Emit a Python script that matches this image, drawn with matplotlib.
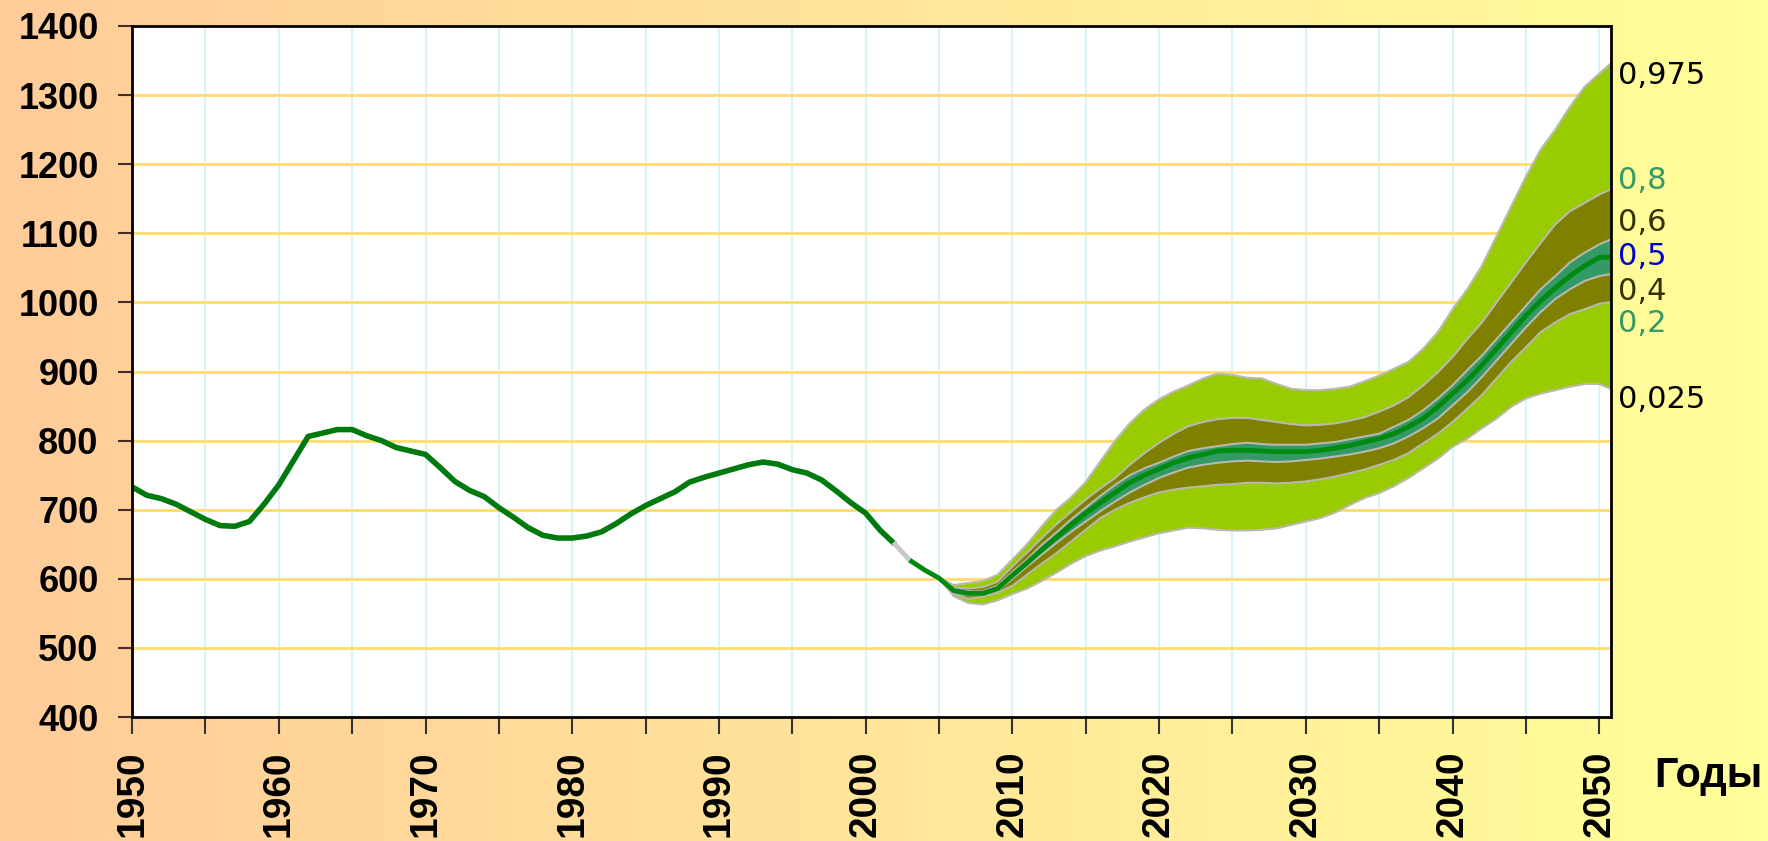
import numpy as np
import matplotlib
matplotlib.use("Agg")
import matplotlib.pyplot as plt
import matplotlib.transforms as mtransforms

plt.rcParams['font.family'] = ['Liberation Sans', 'DejaVu Sans']

# observed series 1950-2002
hist_years = list(range(1950, 2003))
hist_vals = [733, 721, 716, 708, 697, 686, 677, 676, 683, 708,
             736, 771, 806, 811, 816, 816, 807, 800, 790, 785,
             780, 761, 741, 728, 719, 703, 689, 674, 663, 659,
             659, 662, 668, 680, 694, 706, 716, 726, 740, 747,
             753, 759, 765, 769, 766, 758, 753, 743, 727, 710,
             695, 670, 650]

# short gap between data and forecast
gap_years = [2002, 2003]
gap_vals = [650, 627]

# forecast quantiles 2003-2051
fc_years = list(range(2003, 2052))
median = [627, 613, 601, 583, 579, 579, 586, 605, 623, 642,
          660, 678, 695, 710, 725, 739, 750, 759, 768, 775,
          780, 785, 786, 786, 785, 784, 784, 784, 786, 789,
          793, 798, 803, 810, 820, 832, 849, 868, 887, 909,
          933, 957, 981, 1002, 1021, 1038, 1053, 1065, 1066]

band_years = list(range(2005, 2052))
q025 = [601, 575, 565, 563, 569, 578, 586, 597, 609, 622,
        633, 641, 647, 654, 660, 666, 670, 674, 673, 671,
        670, 670, 671, 673, 678, 683, 688, 696, 707, 717,
        724, 734, 746, 760, 774, 791, 803, 818, 832, 849,
        861, 868, 873, 878, 882, 882, 873]
q20 = [601, 578, 571, 574, 580, 590, 606, 622, 637, 654,
       671, 688, 700, 710, 718, 725, 729, 732, 734, 736,
       737, 739, 739, 738, 739, 741, 744, 748, 753, 758,
       765, 772, 782, 796, 810, 827, 846, 866, 890, 914,
       935, 957, 971, 983, 990, 998, 1001]
q40 = [601, 580, 576, 577, 583, 600, 618, 635, 652, 668,
       683, 698, 712, 725, 736, 746, 754, 761, 765, 768,
       770, 771, 770, 769, 770, 772, 774, 777, 780, 784,
       789, 796, 806, 818, 832, 851, 870, 892, 916, 940,
       964, 986, 1005, 1019, 1031, 1038, 1042]
q60 = [601, 584, 582, 582, 590, 610, 628, 649, 667, 686,
       703, 720, 736, 750, 760, 768, 777, 785, 789, 792,
       795, 797, 795, 794, 794, 794, 796, 798, 802, 806,
       810, 820, 830, 844, 861, 880, 902, 923, 947, 971,
       995, 1019, 1038, 1058, 1072, 1084, 1093]
q80 = [601, 587, 586, 588, 596, 618, 638, 659, 679, 697,
       715, 731, 746, 765, 782, 797, 810, 821, 827, 831,
       833, 833, 830, 827, 824, 822, 823, 825, 829, 834,
       842, 851, 863, 880, 899, 921, 947, 971, 1000, 1029,
       1058, 1086, 1113, 1132, 1144, 1156, 1166]
q975 = [601, 591, 594, 597, 606, 628, 650, 676, 700, 718,
        740, 770, 800, 825, 845, 860, 871, 880, 890, 897,
        895, 891, 890, 882, 875, 873, 873, 875, 878, 886,
        894, 904, 914, 933, 957, 990, 1019, 1053, 1096, 1139,
        1182, 1221, 1250, 1283, 1312, 1331, 1350]

quant_labels = ['0,975', '0,8', '0,6', '0,5', '0,4', '0,2', '0,025']
quant_colors = ['black', '#339966', '#333300', '#0000CC', '#333300', '#339966', 'black']
label_y = [1328, 1177, 1115, 1066, 1016, 970, 860]

fig = plt.figure(figsize=(17.68, 8.41), dpi=100)

# background gradient peach -> light yellow
bg = fig.add_axes([0, 0, 1, 1], zorder=-10)
grad = np.linspace(0, 1, 512)
c0 = np.array([255, 204, 153]) / 255
c1 = np.array([255, 255, 153]) / 255
img = c0[None, :] + (c1 - c0)[None, :] * grad[:, None]
bg.imshow(img[None, :, :], aspect='auto', extent=[0, 1, 0, 1])
bg.set_axis_off()

ax = fig.add_axes([0.0747, 0.1474, 0.8365, 0.8217])
ax.set_facecolor('white')

# grid
for yv in range(500, 1400, 100):
    ax.axhline(yv, color='#FFDC6E', lw=2, zorder=1)
for xv in range(1955, 2051, 5):
    ax.axvline(xv, color='#DDF1FB', lw=1.5, zorder=0.5)

edge = '#B8B8B0'
ax.fill_between(band_years, q025, q975, color='#99CC00', lw=0, zorder=2)
ax.fill_between(band_years, q20, q80, color='#808000', lw=0, zorder=3)
ax.fill_between(band_years, q40, q60, color='#339966', lw=0, zorder=4)
for q in [q025, q20, q40, q60, q80, q975]:
    ax.plot(band_years, q, color=edge, lw=1.5, zorder=5)

ax.plot(hist_years, hist_vals, color='#007A0F', lw=4, zorder=6, solid_capstyle='butt')
ax.plot(gap_years, gap_vals, color='#C8C8C8', lw=3.5, zorder=6)
ax.plot(fc_years, median, color='#008A10', lw=3.5, zorder=6, solid_capstyle='butt')

ax.set_xlim(1950, 2050.8)
ax.set_ylim(400, 1400)

ax.set_yticks(range(400, 1401, 100))
ax.set_yticklabels([str(v) for v in range(400, 1401, 100)],
                   fontsize=26, fontweight='bold')
xt = list(range(1950, 2051, 5))
ax.set_xticks(xt)
ax.set_xticklabels([str(v) if v % 10 == 0 else '' for v in xt],
                   fontsize=28, fontweight='bold', rotation=90)
ax.tick_params(axis='y', length=10, width=1.5, color='#4A2A2A', pad=14)
ax.tick_params(axis='x', length=12, width=1.5, color='#333333', pad=12)

for s in ax.spines.values():
    s.set_color('black')
    s.set_linewidth(2)
    s.set_zorder(8)

trans = mtransforms.blended_transform_factory(ax.transAxes, ax.transData)
for lab, col, yv in zip(quant_labels, quant_colors, label_y):
    ax.text(1.005, yv, lab, transform=trans, color=col, fontsize=22,
            family='DejaVu Sans', ha='left', va='center', clip_on=False)

fig.text(0.966, 0.077, 'Годы', fontsize=30, fontweight='bold',
         ha='center', va='center')

fig.savefig('out.png', dpi=100)
